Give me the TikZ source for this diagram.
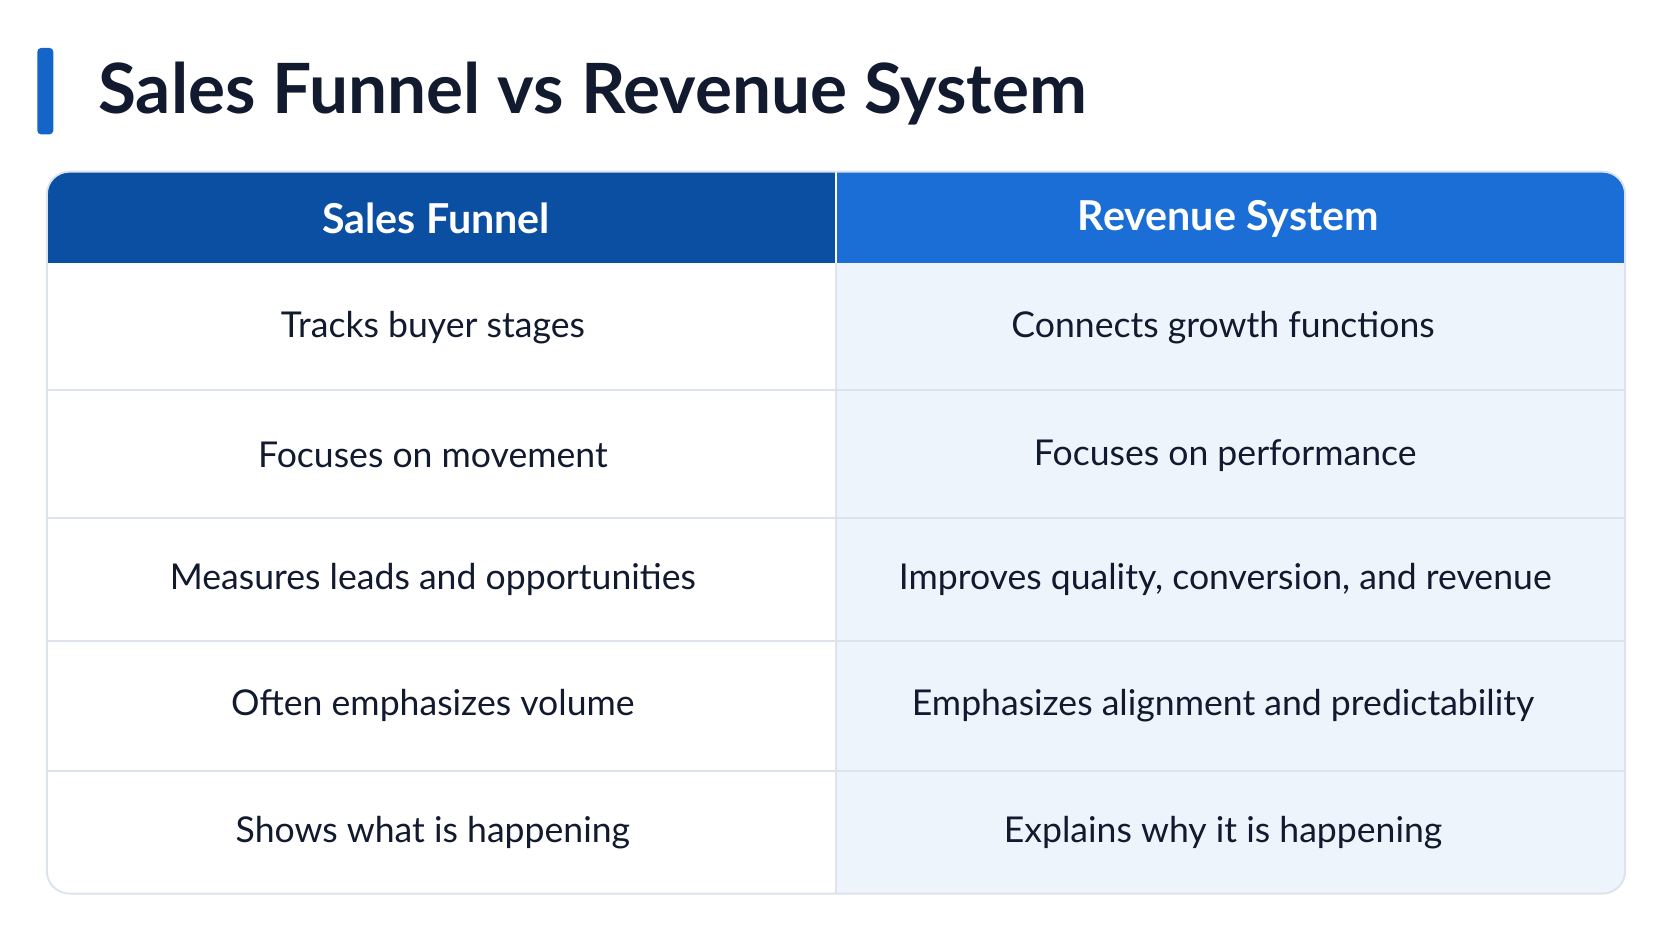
\documentclass[tikz,border=0pt]{standalone}
\usepackage{fontspec}
\setmainfont{Lato}
\definecolor{navy}{HTML}{111A2E}
\definecolor{barblue}{HTML}{1565C8}
\definecolor{headl}{HTML}{0B4FA2}
\definecolor{headr}{HTML}{1A6ED6}
\definecolor{cellr}{HTML}{EEF4FC}
\definecolor{gridc}{HTML}{DCE3EC}
\tikzset{font={\fontsize{19}{22}\selectfont}}
\tikzset{cell/.style={text=navy,anchor=center},
  head/.style={text=white,anchor=center,font={\fontsize{22}{26}\selectfont\bfseries}}}
\begin{document}
\begin{tikzpicture}[x=0.02cm,y=-0.02cm]
  \fill[white] (0,0) rectangle (1568,882);
  \useasboundingbox (0,0) rectangle (1568,882);

  % title
  \fill[barblue,rounded corners=2pt] (35,45) rectangle (50,126);
  \node[anchor=west,text=navy,font={\fontsize{37}{40}\selectfont\bfseries}] (title) at (86,88) {Sales Funnel vs Revenue System};

  % table
  \begin{scope}
    \clip[rounded corners=12pt] (44,161) rectangle (1524,838);
    \fill[cellr] (784,247) rectangle (1524,838);
    \fill[headl] (44,161) rectangle (784,247);
    \fill[headr] (784,161) rectangle (1524,247);
    \foreach \y in {366,486,601,723}
      \draw[gridc,line width=1pt] (44,\y) -- (1524,\y);
    \draw[gridc,line width=1pt] (784,247) -- (784,838);
    \draw[white,line width=1pt] (784,161) -- (784,247);
  \end{scope}
  \draw[gridc,line width=1pt,rounded corners=12pt] (44,161) rectangle (1524,838);

  \node[head] (hl) at (409,205) {Sales Funnel};
  \node[head] (hr) at (1152,205) {Revenue System};

  \node[cell] (l1) at (406,307) {Tracks buyer stages};
  \node[cell] (r1) at (1147,307) {Connects growth functions};
  \node[cell] (l2) at (406,427) {Focuses on movement};
  \node[cell] (r2) at (1149,427) {Focuses on performance};
  \node[cell] (l3) at (406,543) {Measures leads and opportunities};
  \node[cell] (r3) at (1149,543) {Improves quality, conversion, and revenue};
  \node[cell] (l4) at (406,662) {Often emphasizes volume};
  \node[cell] (r4) at (1147,662) {Emphasizes alignment and predictability};
  \node[cell] (l5) at (406,781) {Shows what is happening};
  \node[cell] (r5) at (1147,781) {Explains why it is happening};
\end{tikzpicture}
\end{document}
